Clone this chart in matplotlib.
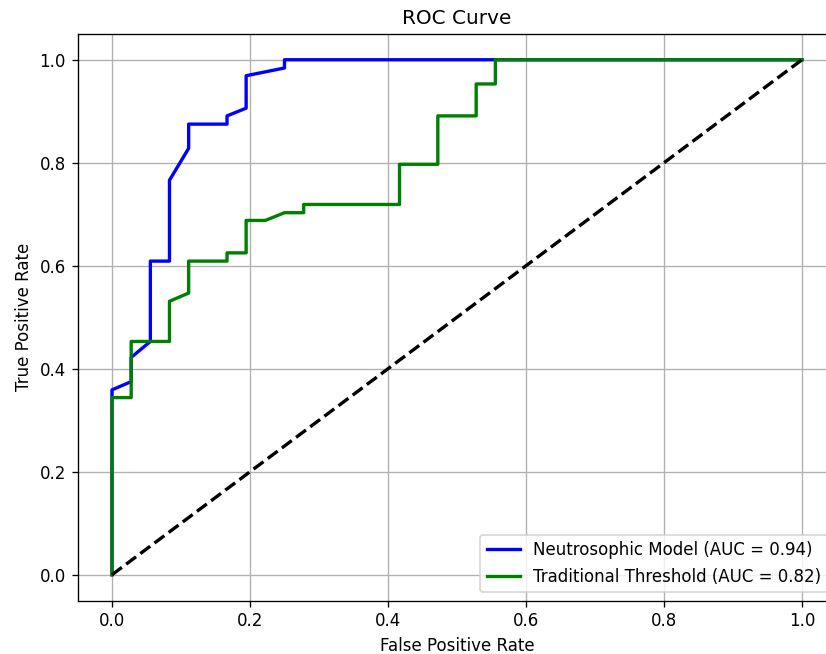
import matplotlib
matplotlib.use('Agg')
import matplotlib.pyplot as plt

# ROC points
fpr_neutro = [0.0, 0.0, 0.0278, 0.0278, 0.0556, 0.0556, 0.0833, 0.0833, 0.1111, 0.1111,
              0.1667, 0.1667, 0.1944, 0.1944, 0.25, 0.25, 1.0]
tpr_neutro = [0.0, 0.359, 0.375, 0.422, 0.453, 0.609, 0.609, 0.766, 0.828, 0.875,
              0.875, 0.891, 0.906, 0.969, 0.984, 1.0, 1.0]
auc_neutro = 0.94

fpr_trad = [0.0, 0.0, 0.0278, 0.0278, 0.0833, 0.0833, 0.1111, 0.1111, 0.1667, 0.1667,
            0.1944, 0.1944, 0.2222, 0.25, 0.2778, 0.2778, 0.4167, 0.4167, 0.4722, 0.4722,
            0.5278, 0.5278, 0.5556, 0.5556, 1.0]
tpr_trad = [0.0, 0.344, 0.344, 0.453, 0.453, 0.531, 0.547, 0.609, 0.609, 0.625,
            0.625, 0.688, 0.688, 0.703, 0.703, 0.719, 0.719, 0.797, 0.797, 0.891,
            0.891, 0.953, 0.953, 1.0, 1.0]
auc_trad = 0.82

fig = plt.figure(figsize=(826 / 120, 654 / 120), dpi=120)
# axes runs a bit past the right edge, like the cropped original
ax = fig.add_axes([77.5 / 826, 53.5 / 654, 759 / 826, 566.5 / 654])

ax.plot(fpr_neutro, tpr_neutro, color='blue', lw=2,
        label='Neutrosophic Model (AUC = {:.2f})'.format(auc_neutro))
ax.plot(fpr_trad, tpr_trad, color='green', lw=2,
        label='Traditional Threshold (AUC = {:.2f})'.format(auc_trad))
ax.plot([0, 1], [0, 1], 'k--', lw=2)

ax.set_xlabel('False Positive Rate')
ax.set_ylabel('True Positive Rate')
ax.set_title('ROC Curve')
ax.legend(loc='lower right')
ax.grid(True)

fig.savefig('out.png', dpi=120)
